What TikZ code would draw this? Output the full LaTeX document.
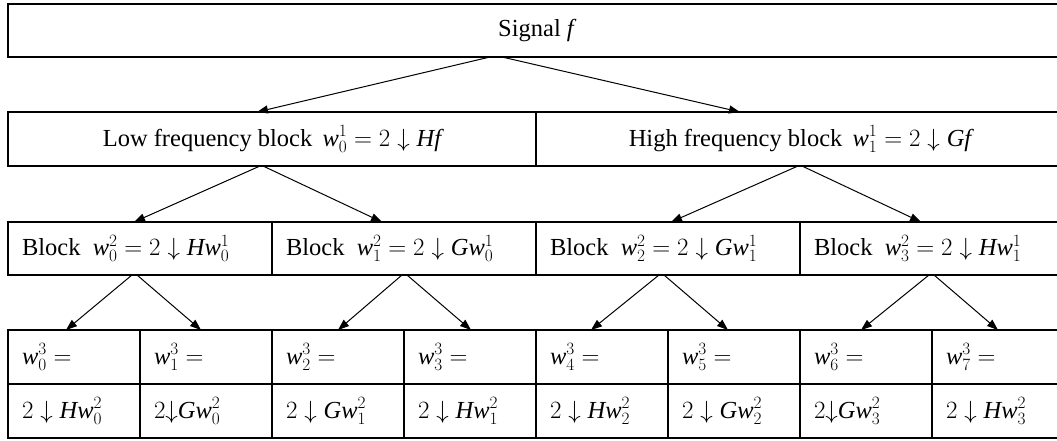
\documentclass[tikz,border=0pt]{standalone}
\usepackage{fontspec}
\setmainfont{Liberation Serif}
\DeclareSymbolFont{operators}{TU}{\rmdefault}{m}{n}
\usetikzlibrary{arrows.meta}
\newcommand{\iv}[1]{\textit{#1}}
\newcommand{\vw}[2]{\iv{w}_{#1}^{#2}}
\tikzset{
  cell/.style={draw, line width=1.6pt, anchor=north west, outer sep=0pt,
    inner xsep=14pt, inner ysep=0pt, font=\fontsize{24.5}{29}\selectfont},
  wide/.style={cell, minimum width=#1, minimum height=54pt, align=center},
  leftcell/.style={cell, text width=#1, minimum height=54pt, align=left},
  arr/.style={-{Triangle[length=11pt,width=8pt]}, line width=1pt},
}

\begin{document}
\begin{tikzpicture}[x=1pt, y=-1pt]
		%%%%% START %%%%%
		\useasboundingbox (0,0) rectangle (1057,441);
		
		\node[wide=1056pt, minimum height=53pt] (sig) at (8,4) {Signal $\iv{f}$};
		
		\node[wide=528pt] (low) at (8,112) {Low frequency block\, $\vw{0}{1} = 2\downarrow \iv{Hf}$};
		\node[wide=528pt] (high) at (536,112) {High frequency block\, $\vw{1}{1} = 2\downarrow \iv{Gf}$};
		
		\node[leftcell=236pt, minimum height=53pt] (b0) at (8,222) {Block\, $\vw{0}{2} = 2\downarrow \iv{H}\vw{0}{1}$};
		\node[leftcell=236pt, minimum height=53pt] (b1) at (272,222) {Block\, $\vw{1}{2} = 2\downarrow \iv{G}\vw{0}{1}$};
		\node[leftcell=236pt, minimum height=53pt] (b2) at (536,222) {Block\, $\vw{2}{2} = 2\downarrow \iv{G}\vw{1}{1}$};
		\node[leftcell=236pt, minimum height=53pt] (b3) at (800,222) {Block\, $\vw{3}{2} = 2\downarrow \iv{H}\vw{1}{1}$};
		
		\node[leftcell=104pt] (c0) at (8,330) {$\vw{0}{3} =$};
		\node[leftcell=104pt] (c1) at (140,330) {$\vw{1}{3} =$};
		\node[leftcell=104pt] (c2) at (272,330) {$\vw{2}{3} =$};
		\node[leftcell=104pt] (c3) at (404,330) {$\vw{3}{3} =$};
		\node[leftcell=104pt] (c4) at (536,330) {$\vw{4}{3} =$};
		\node[leftcell=104pt] (c5) at (668,330) {$\vw{5}{3} =$};
		\node[leftcell=104pt] (c6) at (800,330) {$\vw{6}{3} =$};
		\node[leftcell=104pt] (c7) at (932,330) {$\vw{7}{3} =$};
		
		\node[leftcell=104pt] (d0) at (8,384) {$2\downarrow \iv{H}\vw{0}{2}$};
		\node[leftcell=104pt] (d1) at (140,384) {$2{\downarrow}\iv{G}\vw{0}{2}$};
		\node[leftcell=104pt] (d2) at (272,384) {$2\downarrow \iv{G}\vw{1}{2}$};
		\node[leftcell=104pt] (d3) at (404,384) {$2\downarrow \iv{H}\vw{1}{2}$};
		\node[leftcell=104pt] (d4) at (536,384) {$2\downarrow \iv{H}\vw{2}{2}$};
		\node[leftcell=104pt] (d5) at (668,384) {$2\downarrow \iv{G}\vw{2}{2}$};
		\node[leftcell=104pt] (d6) at (800,384) {$2{\downarrow}\iv{G}\vw{3}{2}$};
		\node[leftcell=104pt] (d7) at (932,384) {$2\downarrow \iv{H}\vw{3}{2}$};
		
		% signal -> first level
		\draw[arr] ([xshift=-46pt]sig.south) -- ([xshift=-15pt]low.north);
		\draw[arr] ([xshift=-34pt]sig.south) -- ([xshift=-60pt]high.north);
		
		% first level -> blocks
		\draw[arr] ([xshift=-12pt]low.south) -- ([xshift=-6pt]b0.north);
		\draw[arr] ([xshift=-9pt]low.south) -- ([xshift=-22pt]b1.north);
		\draw[arr] ([xshift=-2pt]high.south) -- ([xshift=3pt]b2.north);
		\draw[arr] ([xshift=2pt]high.south) -- ([xshift=-11pt]b3.north);
		
		% blocks -> cells
		\draw[arr] ([xshift=-8pt]b0.south) -- ([xshift=-8pt]c0.north);
		\draw[arr] ([xshift=-3pt]b0.south) -- ([xshift=-5pt]c1.north);
		\draw[arr] ([xshift=-2pt]b1.south) -- (c2.north);
		\draw[arr] ([xshift=3pt]b1.south) -- ([xshift=1pt]c3.north);
		\draw[arr] ([xshift=-9pt]b2.south) -- ([xshift=-11pt]c4.north);
		\draw[arr] ([xshift=-4pt]b2.south) -- ([xshift=-6pt]c5.north);
		\draw[arr] ([xshift=-3pt]b3.south) -- ([xshift=-5pt]c6.north);
		\draw[arr] ([xshift=2pt]b3.south) -- (c7.north);
		
		%%%%% END %%%%%
	\end{tikzpicture}
\end{document}
